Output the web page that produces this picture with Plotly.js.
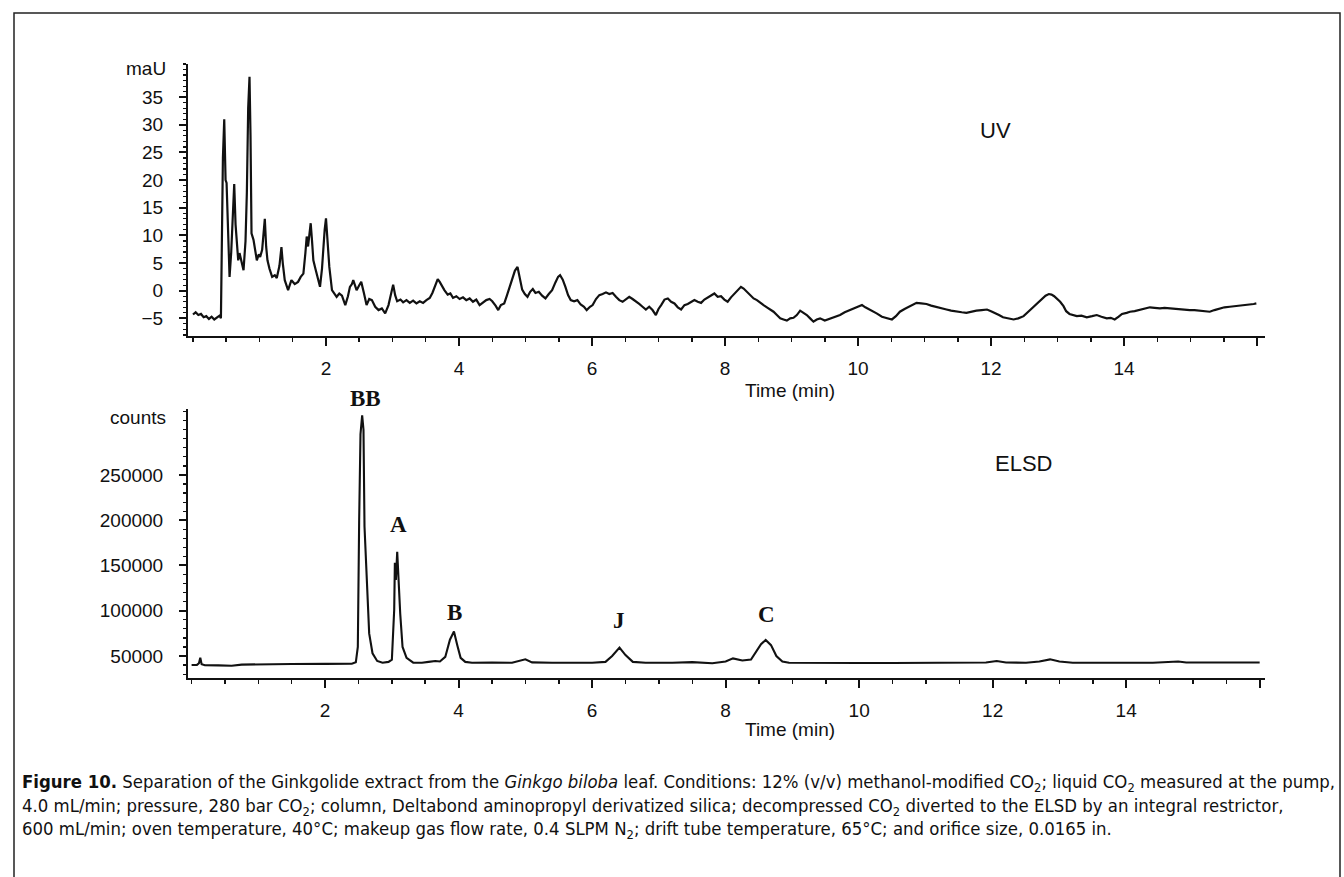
<!DOCTYPE html>
<html>
<head>
<meta charset="utf-8">
<script src="https://cdn.plot.ly/plotly-3.0.1.min.js"></script>
<style>
html,body{margin:0;padding:0;background:#fff;}
#chart{width:1344px;height:877px;}
</style>
</head>
<body>
<div id="chart"></div>
<script>
// ---------- DATA ----------
const uvTime = [0.00,0.04,0.08,0.12,0.16,0.20,0.24,0.28,0.32,0.36,0.40,0.42,0.43,0.45,0.47,0.49,0.505,0.52,0.535,0.55,0.575,0.60,0.62,0.64,0.66,0.68,0.70,0.73,0.76,0.79,0.81,0.83,0.85,0.865,0.88,0.91,0.935,0.96,0.99,1.01,1.04,1.06,1.08,1.10,1.12,1.15,1.19,1.23,1.26,1.30,1.33,1.35,1.38,1.43,1.48,1.53,1.58,1.62,1.66,1.69,1.71,1.73,1.75,1.77,1.79,1.81,1.84,1.88,1.91,1.94,1.96,1.98,2.00,2.02,2.05,2.09,2.13,2.16,2.20,2.24,2.29,2.33,2.36,2.39,2.41,2.44,2.46,2.50,2.53,2.57,2.61,2.65,2.69,2.74,2.79,2.84,2.89,2.94,2.98,3.01,3.04,3.07,3.12,3.16,3.21,3.26,3.31,3.36,3.41,3.46,3.51,3.56,3.60,3.64,3.68,3.71,3.74,3.78,3.83,3.87,3.91,3.96,4.01,4.06,4.11,4.16,4.21,4.26,4.31,4.36,4.41,4.46,4.50,4.55,4.59,4.63,4.68,4.72,4.76,4.80,4.84,4.88,4.91,4.95,4.99,5.03,5.07,5.11,5.15,5.20,5.25,5.30,5.35,5.40,5.45,5.49,5.52,5.56,5.60,5.64,5.68,5.73,5.78,5.83,5.88,5.92,5.97,6.01,6.06,6.11,6.16,6.21,6.26,6.31,6.36,6.41,6.46,6.51,6.56,6.61,6.66,6.71,6.76,6.81,6.86,6.91,6.96,7.00,7.04,7.09,7.14,7.19,7.24,7.29,7.34,7.39,7.44,7.49,7.54,7.59,7.64,7.69,7.74,7.79,7.84,7.89,7.94,7.99,8.04,8.09,8.14,8.19,8.24,8.28,8.33,8.38,8.43,8.48,8.53,8.58,8.63,8.68,8.73,8.78,8.83,8.88,8.93,8.98,9.03,9.08,9.13,9.18,9.23,9.28,9.33,9.38,9.43,9.50,9.58,9.65,9.73,9.80,9.88,9.95,10.02,10.06,10.11,10.16,10.21,10.28,10.36,10.43,10.51,10.57,10.63,10.70,10.76,10.82,10.88,10.95,11.03,11.10,11.18,11.25,11.33,11.40,11.48,11.56,11.63,11.70,11.78,11.86,11.94,12.00,12.06,12.12,12.18,12.26,12.34,12.41,12.49,12.56,12.64,12.70,12.76,12.82,12.87,12.91,12.95,12.99,13.04,13.09,13.13,13.18,13.24,13.29,13.36,13.44,13.52,13.59,13.66,13.74,13.80,13.86,13.92,13.97,14.04,14.09,14.16,14.24,14.31,14.39,14.46,14.54,14.61,14.69,14.76,14.84,14.91,14.99,15.06,15.14,15.21,15.29,15.36,15.44,15.51,15.59,15.66,15.74,15.81,15.89,15.95,15.99];
const uvSignal = [-4.3,-3.9,-4.4,-4.2,-4.8,-4.6,-5.1,-4.7,-5.2,-4.8,-4.5,-5.0,9.0,24,31,20,19.5,12.2,6.1,2.5,7,15.9,19.3,12,8,5.5,6.8,5.0,3.7,9,17.7,33,38.7,28,10.4,9.2,7,5.5,6.6,6.1,7.4,10,13,8,5.5,4,2.5,2.8,2.3,4.5,7.9,5,1.9,0.1,1.9,1.2,1.6,2.5,3.1,6.8,9.8,8,10.5,12.2,9,5.5,4,1.9,0.7,4,8,11,13.1,9,4.3,0.1,-0.6,-1.1,-0.5,-0.9,-2.6,-1.0,0.7,1.2,1.9,0.8,0.1,1.0,1.6,-0.4,-2.6,-1.5,-1.7,-2.9,-3.5,-3.2,-4.1,-2.6,-0.6,1.1,-0.8,-1.9,-1.6,-2.1,-1.7,-2.2,-1.8,-2.3,-1.9,-2.2,-1.7,-1.3,-0.4,0.8,2.1,1.6,0.9,0.1,-0.7,-0.5,-1.3,-1.0,-1.5,-1.2,-1.7,-1.4,-2.0,-1.6,-2.6,-2.1,-1.7,-1.5,-1.9,-2.7,-3.5,-2.6,-2.3,-0.9,0.7,2.2,3.6,4.3,2.6,0.2,-0.6,-1.1,-0.2,0.3,-0.4,-0.2,-0.9,-1.4,-0.6,0.1,1.5,2.5,2.8,2.0,0.7,-0.8,-1.7,-1.9,-1.7,-2.5,-2.9,-3.5,-2.9,-2.6,-1.5,-0.8,-0.6,-0.3,-0.6,-0.4,-1.1,-1.7,-2.0,-1.5,-1.1,-1.5,-1.9,-2.4,-2.9,-3.4,-2.9,-3.5,-4.4,-3.3,-2.6,-1.6,-1.4,-2.0,-2.3,-3.0,-3.4,-2.6,-2.4,-2.0,-1.7,-2.0,-2.2,-1.6,-1.2,-0.9,-0.5,-1.1,-1.0,-1.6,-2.0,-1.2,-0.5,0.1,0.7,0.4,-0.2,-0.8,-1.4,-1.7,-2.2,-2.6,-3.0,-3.4,-3.8,-4.4,-5.0,-5.2,-5.4,-5.0,-4.9,-4.4,-3.6,-4.0,-4.4,-5.0,-5.6,-5.2,-5.0,-5.4,-5.1,-4.8,-4.4,-3.9,-3.5,-3.1,-2.8,-2.6,-3.0,-3.3,-3.6,-4.1,-4.7,-4.9,-5.2,-4.6,-3.8,-3.3,-2.9,-2.5,-2.2,-2.3,-2.4,-2.7,-2.9,-3.2,-3.4,-3.6,-3.8,-3.9,-4.0,-3.8,-3.6,-3.5,-3.4,-3.7,-4.0,-4.4,-4.8,-5.0,-5.2,-5.0,-4.6,-3.8,-2.9,-2.1,-1.4,-0.9,-0.6,-0.7,-1.0,-1.4,-2.0,-2.8,-3.7,-4.2,-4.4,-4.6,-4.5,-4.8,-4.6,-4.4,-4.7,-5.0,-4.9,-5.2,-4.7,-4.2,-4.0,-3.8,-3.7,-3.5,-3.3,-3.0,-3.1,-3.2,-3.1,-3.2,-3.3,-3.4,-3.4,-3.5,-3.5,-3.6,-3.7,-3.8,-3.5,-3.2,-3.0,-2.9,-2.8,-2.7,-2.7,-2.6,-2.4,-2.3];

const elsdTime = [0.00,0.08,0.11,0.13,0.15,0.20,0.40,0.60,0.75,1.00,1.50,2.00,2.40,2.46,2.49,2.51,2.53,2.555,2.575,2.59,2.62,2.66,2.71,2.78,2.86,2.95,3.00,3.02,3.035,3.045,3.06,3.08,3.10,3.125,3.16,3.22,3.32,3.45,3.55,3.65,3.72,3.80,3.87,3.93,3.98,4.03,4.10,4.20,4.50,4.80,5.00,5.10,5.40,5.70,6.00,6.20,6.30,6.41,6.50,6.61,6.80,7.20,7.50,7.80,8.00,8.11,8.25,8.38,8.45,8.53,8.60,8.68,8.76,8.85,8.95,9.50,10.0,10.5,11.0,11.5,11.9,12.06,12.2,12.5,12.7,12.86,13.0,13.2,13.8,14.4,14.78,14.9,15.4,15.9,16.0];
const elsdCounts = [40000,40200,42000,48000,41000,39800,39700,39200,40500,41000,41200,41300,41500,43000,60000,200000,295000,316000,300000,193000,134000,75000,53000,44500,42500,43500,46000,70000,101000,153000,134000,165000,134000,97000,60000,48000,42600,42500,43500,44500,44000,49000,68000,77000,62000,48000,43500,42500,42800,42500,46300,43000,42600,42800,42500,43500,50000,59200,51000,43500,42600,42500,43200,42000,44000,47400,45000,46000,54000,63000,67700,62000,50000,44000,42500,42000,42300,42200,42300,42500,42800,44500,42800,42600,44000,46300,44000,42500,42500,42600,44000,42800,42800,43000,42800];

const uvTickVals = [-5,0,5,10,15,20,25,30,35];
const uvTickText = ['\u22125','0','5','10','15','20','25','30','35'];
const elsdTickVals = [50000,100000,150000,200000,250000];
const elsdTickText = ['50000','100000','150000','200000','250000'];
const timeTickVals = [2,4,6,8,10,12,14,16];
const timeTickText = ['2','4','6','8','10','12','14',''];
const peakNames = ['BB','A','B','J','C'];

// ---------- LAYOUT ----------
const W = 1344, H = 877;
const PX = x => x / W;
const PY = y => 1 - y / H;

const axisFont = {family: 'Liberation Sans, Arial, Helvetica, sans-serif', size: 19, color: '#111'};

function xAxis(r, anchor) {
  return {
    anchor: anchor, domain: [PX(188), PX(1265)], range: r,
    showline: true, linecolor: '#111', linewidth: 2,
    ticks: 'outside', ticklen: 8, tickwidth: 2, tickcolor: '#111',
    tickmode: 'array', tickvals: timeTickVals, ticktext: timeTickText,
    tickfont: axisFont, ticklabelstandoff: 6,
    minor: {tickmode: 'linear', tick0: 0, dtick: 0.5, ticks: 'outside', ticklen: 4, tickwidth: 1.5, tickcolor: '#111', showgrid: false},
    showgrid: false, zeroline: false, fixedrange: true
  };
}
function yAxis(dom, r, tv, tt, minorD, anchor) {
  return {
    anchor: anchor, domain: dom, range: r,
    showline: true, linecolor: '#111', linewidth: 2,
    ticks: 'outside', ticklen: 7, tickwidth: 2, tickcolor: '#111',
    tickmode: 'array', tickvals: tv, ticktext: tt,
    tickfont: axisFont, ticklabelstandoff: 12,
    minor: {tickmode: 'linear', tick0: 0, dtick: minorD, ticks: 'outside', ticklen: 3, tickwidth: 1.2, tickcolor: '#111', showgrid: false},
    showgrid: false, zeroline: false, fixedrange: true
  };
}

const traces = [
  {x: uvTime, y: uvSignal, xaxis: 'x', yaxis: 'y', type: 'scatter', mode: 'lines',
   line: {color: '#111', width: 2.2}, hoverinfo: 'skip'},
  {x: elsdTime, y: elsdCounts, xaxis: 'x2', yaxis: 'y2', type: 'scatter', mode: 'lines',
   line: {color: '#111', width: 2.1}, hoverinfo: 'skip'}
];

const serifBold = {family: 'Liberation Serif, Times New Roman, serif', size: 23, color: '#111'};
const peakPos = [[366, 398], [398, 524], [454, 612], [619, 620], [766, 614]];
const annotations = [];
peakNames.forEach((n, i) => {
  annotations.push({xref: 'paper', yref: 'paper', x: PX(peakPos[i][0]), y: PY(peakPos[i][1]),
    text: '<b>' + n + '</b>', showarrow: false, font: serifBold, xanchor: 'center', yanchor: 'middle'});
});
const plain = (txt, x, y, anchor, size) => ({xref: 'paper', yref: 'paper', x: PX(x), y: PY(y), text: txt,
  showarrow: false, font: Object.assign({}, axisFont, {size: size || 19}), xanchor: anchor || 'center', yanchor: 'middle'});
annotations.push(plain('maU', 168, 68, 'right'));
annotations.push(plain('counts', 168, 417, 'right'));
annotations.push(plain('UV', 995, 130, 'center', 22));
annotations.push(plain('ELSD', 1023, 463, 'center', 22));
annotations.push(plain('Time (min)', 790, 391, 'center'));
annotations.push(plain('Time (min)', 790, 729, 'center'));

const capFont = {family: 'DejaVu Sans Condensed, Liberation Sans Narrow, DejaVu Sans, sans-serif', size: 18.4, color: '#111'};
const capLines = [
  '<b>Figure 10.</b> Separation of the Ginkgolide extract from the <i>Ginkgo biloba</i> leaf. Conditions: 12% (v/v) methanol-modified CO<sub>2</sub>; liquid CO<sub>2</sub> measured at the pump,',
  '4.0 mL/min; pressure, 280 bar CO<sub>2</sub>; column, Deltabond aminopropyl derivatized silica; decompressed CO<sub>2</sub> diverted to the ELSD by an integral restrictor,',
  '600 mL/min; oven temperature, 40°C; makeup gas flow rate, 0.4 SLPM N<sub>2</sub>; drift tube temperature, 65°C; and orifice size, 0.0165 in.'
];
const capY = [783, 807, 830];
capLines.forEach((t, i) => {
  annotations.push({xref: 'paper', yref: 'paper', x: PX(20), y: PY(capY[i]), text: t, showarrow: false,
    font: capFont, xanchor: 'left', yanchor: 'middle', align: 'left'});
});

const layout = {
  width: W, height: H, margin: {l: 0, r: 0, t: 0, b: 0},
  paper_bgcolor: '#fff', plot_bgcolor: '#fff', showlegend: false,
  xaxis: xAxis([-0.075, 16.12], 'y'),
  yaxis: yAxis([PY(336), PY(64)], [-8.19, 41.0], uvTickVals, uvTickText, 1, 'x'),
  xaxis2: xAxis([-0.054, 16.08], 'y2'),
  yaxis2: yAxis([PY(678), PY(409)], [25700, 322900], elsdTickVals, elsdTickText, 10000, 'x2'),
  annotations: annotations,
  shapes: [{type: 'rect', xref: 'paper', yref: 'paper', x0: PX(14), x1: PX(1340), y0: -0.05, y1: PY(13),
    line: {color: '#222', width: 1.5}, fillcolor: 'rgba(0,0,0,0)'}]
};

Plotly.newPlot('chart', traces, layout, {displayModeBar: false, staticPlot: true});
</script>
</body>
</html>
